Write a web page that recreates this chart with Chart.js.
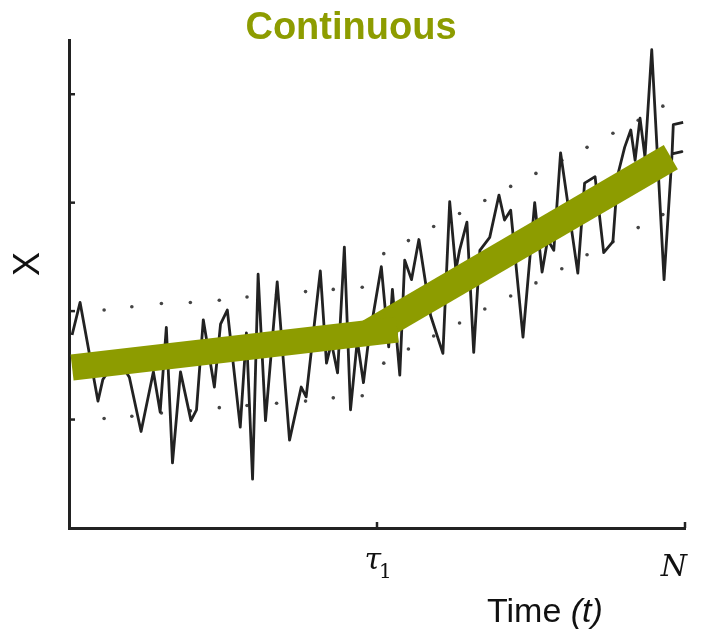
<!DOCTYPE html>
<html>
<head>
<meta charset="utf-8">
<title>Continuous</title>
<script src="https://cdn.jsdelivr.net/npm/chart.js@4/dist/chart.umd.min.js"></script>
<style>
  html, body { margin: 0; padding: 0; background: #fff; }
  canvas { display: block; }
</style>
</head>
<body>
<canvas id="chart" width="717" height="633"></canvas>
<script>
/* =========================================================
   Data
   ========================================================= */
// noisy observed series: time t and value X
const seriesT = [0.5, 1.8, 4.7, 5.5, 7.8, 9.8, 11.7, 13.7, 14.8, 15.8, 16.8, 18.1, 19.8, 20.7,
  21.8, 23.6, 24.6, 25.7, 27.8, 28.8, 29.8, 30.7, 31.9, 33.8, 35.8, 37.7, 38.5, 40.8, 41.8,
  42.6, 43.6, 44.7, 45.7, 46.8, 47.8, 48.5, 50.7, 51.9, 52.5, 53.7, 54.5, 55.6, 56.8, 58.7,
  60.7, 61.8, 62.8, 63.4, 64.6, 65.7, 66.7, 68.3, 69.8, 70.7, 71.7, 73.7, 75.6, 76.8, 77.7,
  78.7, 79.8, 82.6, 83.7, 85.4, 86.8, 88.3, 89.1, 90.2, 91.2, 91.9, 92.7, 93.5, 94.6, 96.6,
  97.9, 99.5, 97.9, 98.1, 99.7];
const seriesX = [1.78, 2.08, 1.17, 1.37, 1.57, 1.39, 0.89, 1.44, 1.07, 1.85, 0.60, 1.44, 0.99, 1.09,
  1.92, 1.30, 1.88, 2.01, 0.93, 1.80, 0.45, 2.34, 0.99, 2.27, 0.81, 1.30, 1.21, 2.37, 1.52,
  1.71, 1.43, 2.59, 1.09, 1.73, 1.34, 1.67, 2.41, 1.67, 2.20, 1.41, 2.47, 2.29, 2.66, 1.96,
  1.61, 3.01, 2.38, 2.56, 2.82, 1.62, 2.56, 2.68, 3.07, 2.84, 2.93, 1.76, 3.00, 2.36, 2.66,
  2.56, 3.46, 2.35, 3.18, 3.24, 2.54, 2.64, 3.26, 3.51, 3.67, 3.39, 3.78, 3.42, 4.41, 2.29,
  3.45, 3.47, 3.45, 3.72, 3.74];

// fitted continuous trend, two pieces meeting at tau1
const trendAT = [0.5, 53.3];
const trendAX = [1.48, 1.83];
const trendBT = [48.8, 97.7];
const trendBX = [1.80, 3.42];

// dotted bands
const bandT = [5.7, 10.2, 15.0, 19.7, 24.4, 28.9, 33.7, 38.4, 42.9, 47.6, 51.1, 55.1,
  59.2, 63.4, 67.5, 71.7, 75.8, 80.0, 84.1, 88.3, 92.4, 96.4];
const bandUpper = [2.01, 2.04, 2.07, 2.08, 2.10, 2.13, 2.15, 2.18, 2.20, 2.22, 2.53, 2.65,
  2.78, 2.90, 3.02, 3.15, 3.27, 3.39, 3.51, 3.64, 3.76, 3.89];
const bandLower = [1.01, 1.03, 1.06, 1.08, 1.11, 1.13, 1.15, 1.17, 1.20, 1.22, 1.52, 1.65,
  1.77, 1.89, 2.02, 2.14, 2.26, 2.39, 2.52, 2.64, 2.77, 2.89];

// axis ticks
const xTickValues = [50, 100];
const xTickLabels = ['τ', 'N'];
const xTickSubs = ['1', ''];
const yTickValues = [1, 2, 3, 4];

const OLIVE = '#8d9c00';
const INK = '#222';
const MATH_FONT = '"DejaVu Serif", "Liberation Serif", serif';

const pts = (xs, ys) => xs.map((x, i) => ({ x, y: ys[i] }));

/* =========================================================
   Text + inward tick marks
   ========================================================= */
const annotations = {
  id: 'annotations',
  afterDraw(chart) {
    const { ctx, scales: { x, y } } = chart;
    ctx.save();

    // inward ticks
    ctx.strokeStyle = INK;
    ctx.lineWidth = 2.5;
    yTickValues.forEach(v => {
      const py = y.getPixelForValue(v);
      ctx.beginPath();
      ctx.moveTo(x.left, py);
      ctx.lineTo(x.left + 6, py);
      ctx.stroke();
    });
    xTickValues.forEach(v => {
      const px = x.getPixelForValue(v);
      ctx.beginPath();
      ctx.moveTo(px, y.bottom);
      ctx.lineTo(px, y.bottom - 6);
      ctx.stroke();
    });

    // x tick labels (math style)
    ctx.fillStyle = '#111';
    ctx.textBaseline = 'alphabetic';
    xTickValues.forEach((v, i) => {
      const px = x.getPixelForValue(v);
      if (xTickSubs[i]) {
        ctx.font = 'italic 30px ' + MATH_FONT;
        ctx.textAlign = 'right';
        ctx.fillText(xTickLabels[i], px + 4, 569);
        ctx.font = '20px ' + MATH_FONT;
        ctx.textAlign = 'left';
        ctx.fillText(xTickSubs[i], px + 2, 578);
      } else {
        ctx.font = 'italic 30px ' + MATH_FONT;
        ctx.textAlign = 'right';
        ctx.fillText(xTickLabels[i], px + 2, 576);
      }
    });

    // title
    ctx.fillStyle = OLIVE;
    ctx.font = 'bold 38px "Liberation Sans", Arial, sans-serif';
    ctx.textAlign = 'center';
    ctx.fillText('Continuous', 351, 39);

    // x axis title: "Time (t)"
    ctx.fillStyle = '#111';
    ctx.textAlign = 'left';
    ctx.font = '34px "Liberation Sans", Arial, sans-serif';
    const part1 = 'Time ';
    ctx.fillText(part1, 487, 622);
    const w1 = ctx.measureText(part1).width;
    ctx.font = 'italic 34px "Liberation Sans", Arial, sans-serif';
    ctx.fillText('(t)', 487 + w1, 622);

    // y axis title
    ctx.translate(29, 264);
    ctx.rotate(-Math.PI / 2);
    ctx.font = '36px "Liberation Sans", Arial, sans-serif';
    ctx.textAlign = 'center';
    ctx.textBaseline = 'middle';
    ctx.fillText('X', 0, 0);

    ctx.restore();
  }
};

/* =========================================================
   Chart
   ========================================================= */
new Chart(document.getElementById('chart').getContext('2d'), {
  type: 'line',
  data: {
    datasets: [
      {
        label: 'trend A',
        data: pts(trendAT, trendAX),
        borderColor: OLIVE,
        borderWidth: 26,
        borderCapStyle: 'butt',
        pointRadius: 0,
        order: 0
      },
      {
        label: 'trend B',
        data: pts(trendBT, trendBX),
        borderColor: OLIVE,
        borderWidth: 28,
        borderCapStyle: 'butt',
        pointRadius: 0,
        order: 0
      },
      {
        label: 'series',
        data: pts(seriesT, seriesX),
        borderColor: INK,
        borderWidth: 2.8,
        borderJoinStyle: 'round',
        pointRadius: 0,
        tension: 0,
        order: 1
      },
      {
        label: 'upper',
        data: pts(bandT, bandUpper),
        showLine: false,
        pointRadius: 1.8,
        pointBackgroundColor: '#444',
        pointBorderWidth: 0,
        order: 2
      },
      {
        label: 'lower',
        data: pts(bandT, bandLower),
        showLine: false,
        pointRadius: 1.8,
        pointBackgroundColor: '#444',
        pointBorderWidth: 0,
        order: 2
      }
    ]
  },
  options: {
    responsive: false,
    devicePixelRatio: 1,
    animation: false,
    layout: { padding: { top: 40, right: 32, left: 0, bottom: 0 } },
    plugins: {
      legend: { display: false },
      tooltip: { enabled: false },
      title: { display: false }
    },
    scales: {
      x: {
        type: 'linear',
        min: 0,
        max: 100,
        grid: { display: false },
        border: { display: true, color: INK, width: 3 },
        ticks: { display: false },
        afterFit: s => { s.height = 105; }
      },
      y: {
        type: 'linear',
        min: 0,
        max: 4.5,
        grid: { display: false },
        border: { display: true, color: INK, width: 3 },
        ticks: { display: false },
        afterFit: s => { s.width = 69; }
      }
    }
  },
  plugins: [annotations]
});
</script>
</body>
</html>
